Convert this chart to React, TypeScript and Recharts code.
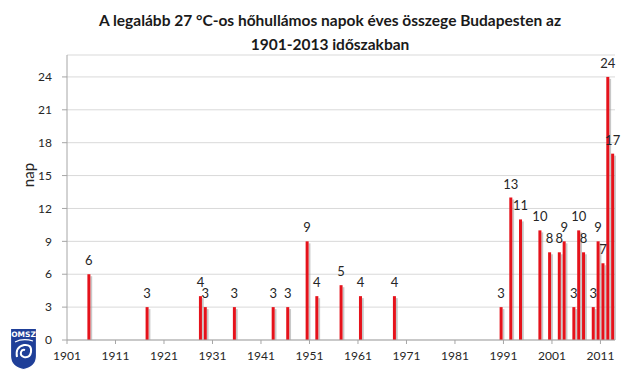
import React from "react";
import {
  BarChart,
  Bar,
  XAxis,
  YAxis,
  CartesianGrid,
  LabelList,
  Label,
} from "recharts";

// Years with at least one heat-wave day (>= 27 °C) and the yearly total
const years = [
  1905, 1917, 1928, 1929, 1935, 1943, 1946, 1950, 1952, 1957, 1961, 1968,
  1990, 1992, 1994, 1998, 2000, 2002, 2003, 2005, 2006, 2007, 2009, 2010,
  2011, 2012, 2013,
];
const days = [
  6, 3, 4, 3, 3, 3, 3, 9, 4, 5, 4, 4, 3, 13, 11, 10, 8, 8, 9, 3, 10, 8, 3, 9,
  7, 24, 17,
];

const firstYear = 1901;
const axisEndYear = 2014;
const xTicks = [1901, 1911, 1921, 1931, 1941, 1951, 1961, 1971, 1981, 1991, 2001, 2011];
const yTicks = [0, 3, 6, 9, 12, 15, 18, 21, 24];

const titleLines = [
  "A legalább 27 °C-os hőhullámos napok éves összege Budapesten az",
  "1901-2013 időszakban",
];
const yAxisTitle = "nap";

const categories: number[] = [];
for (let y = firstYear; y < axisEndYear; y++) categories.push(y);

const data = categories.map((y) => {
  const i = years.indexOf(y);
  return { year: y, days: i >= 0 ? days[i] : null };
});

const FONT = "Lato, 'Open Sans', sans-serif";
const TEXT = "#262626";
const RED = "#e5121b";

const ShadowBar = (props: any) => {
  const { x, y, width, height, fill } = props;
  if (!height || height <= 0) return <g />;
  return (
    <g>
      <rect x={x + width} y={y + 2} width={1.8} height={height - 2} fill="#9a9a9a" opacity={0.55} />
      <rect x={x} y={y} width={width} height={height} fill={fill} />
    </g>
  );
};

const Logo = () => (
  <svg
    width={29}
    height={44}
    style={{ position: "absolute", left: 9, top: 327 }}
    viewBox="0 0 29 44"
  >
    <path
      d="M1.5,1.5 H27.5 V29 Q27.5,40 14.5,42.5 Q1.5,40 1.5,29 Z"
      fill="#1f3f98"
      stroke="#ffffff"
      strokeWidth={1.2}
    />
    <text
      x={14.5}
      y={10}
      textAnchor="middle"
      fontSize={7.5}
      fontWeight="bold"
      fill="#ffffff"
      fontFamily="'DejaVu Sans', sans-serif"
    >
      OMSZ
    </text>
    <path
      d="M8,30 Q6,20 15,18 Q23,17 22,25 Q21,31 15,30 Q11,29 12,25 Q13,22 16,23"
      fill="none"
      stroke="#ffffff"
      strokeWidth={2}
    />
    <path d="M6,15 Q14,11 24,14" fill="none" stroke="#ffffff" strokeWidth={1.2} />
  </svg>
);

export default function App() {
  return (
    <div
      style={{
        position: "absolute",
        left: 0,
        top: 0,
        width: 640,
        height: 377,
        background: "#ffffff",
        overflow: "hidden",
      }}
    >
      <div
        style={{
          position: "absolute",
          left: 10,
          top: 8,
          width: 640,
          textAlign: "center",
          fontFamily: FONT,
          fontWeight: 700,
          fontSize: 15.5,
          lineHeight: "24px",
          color: "#1a1a1a",
        }}
      >
        {titleLines.map((t) => (
          <div key={t}>{t}</div>
        ))}
      </div>
      <div style={{ position: "absolute", left: 0, top: 0 }}>
        <BarChart
          width={640}
          height={377}
          data={data}
          margin={{ top: 55, right: 25, bottom: 6, left: 0 }}
          barCategoryGap={0}
        >
          <CartesianGrid vertical={false} stroke="#d9d9d9" xAxisId="num" />
          <XAxis
            xAxisId="cat"
            dataKey="year"
            type="category"
            orientation="top"
            height={0}
            hide
          />
          <XAxis
            xAxisId="num"
            dataKey="year"
            type="number"
            domain={[firstYear, axisEndYear]}
            ticks={xTicks}
            allowDataOverflow
            height={31}
            tickSize={4}
            tickMargin={7}
            axisLine={{ stroke: "#a6a6a6" }}
            tickLine={{ stroke: "#a6a6a6" }}
            tick={{ fontSize: 12, fill: TEXT, fontFamily: FONT }}
            interval={0}
          />
          <YAxis
            domain={[0, 26]}
            ticks={yTicks}
            width={67}
            tickSize={5}
            tickMargin={10}
            axisLine={{ stroke: "#a6a6a6" }}
            tickLine={{ stroke: "#a6a6a6" }}
            tick={{ fontSize: 12, fill: TEXT, fontFamily: FONT }}
            interval={0}
          >
            <Label
              content={() => (
                <text
                  x={28}
                  y={175}
                  transform="rotate(-90 28 175)"
                  textAnchor="middle"
                  dominantBaseline="central"
                  fontSize={15}
                  fill={TEXT}
                  fontFamily={FONT}
                >
                  {yAxisTitle}
                </text>
              )}
            />
          </YAxis>
          <Bar
            xAxisId="cat"
            dataKey="days"
            barSize={3}
            fill={RED}
            shape={ShadowBar}
            isAnimationActive={false}
          >
            <LabelList
              dataKey="days"
              position="top"
              offset={9}
              fontSize={13}
              fill={TEXT}
              fontFamily={FONT}
              formatter={(v: any) => (v == null ? "" : v)}
            />
          </Bar>
        </BarChart>
      </div>
      <Logo />
    </div>
  );
}
